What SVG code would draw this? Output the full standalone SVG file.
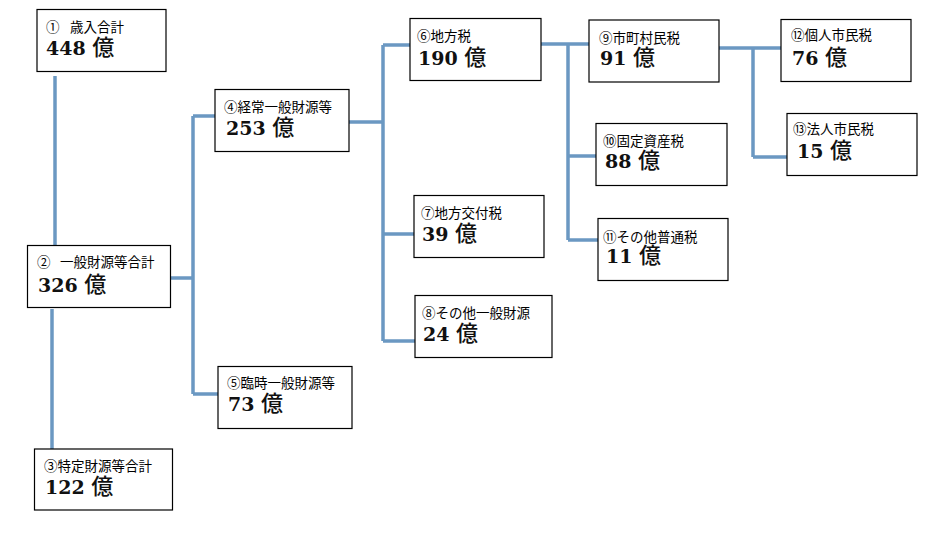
<svg xmlns="http://www.w3.org/2000/svg" width="937" height="534" viewBox="0 0 937 534">
<style>
.bx{fill:#fff;stroke:#000;stroke-width:1.2}
.lb{font-family:"Noto Sans CJK JP","Noto Sans",sans-serif;font-size:13.5px;font-weight:normal;fill:#000}
.nm{font-family:"DejaVu Serif","Liberation Serif",serif;font-weight:bold;font-size:19px;fill:#111}
.ok{font-family:"Noto Sans CJK JP",sans-serif;font-weight:500;font-size:22px}
.cn{fill:none;stroke:#6b98c2;stroke-width:3.5}
</style>
<rect width="937" height="534" fill="#fff"/>
<g id="connectors">
<path class="cn" d="M55,76V245"/>
<path class="cn" d="M52,309V449"/>
<path class="cn" d="M170,278H193M193,116V394M193,116H215M193,394H218"/>
<path class="cn" d="M349,122H383M383,45V341M383,45H410M383,234H414M383,341H415"/>
<path class="cn" d="M541,44H589M568,44V240M568,156H596M568,240H598"/>
<path class="cn" d="M719,48H781M753,48V157M753,157H787"/>
</g>
<g id="n1"><rect class="bx" x="37" y="9.5" width="129" height="62"/>
<text class="nm"><tspan class="lb" x="46" y="32">①</tspan><tspan class="lb" x="70" y="32">歳入合計</tspan><tspan x="46" y="55">448 </tspan><tspan class="ok">億</tspan></text></g>
<g id="n2"><rect class="bx" x="27.5" y="245.5" width="143" height="62"/>
<text class="nm"><tspan class="lb" x="37" y="267">②</tspan><tspan class="lb" x="60" y="267">一般財源等合計</tspan><tspan x="38" y="292">326 </tspan><tspan class="ok">億</tspan></text></g>
<g id="n3"><rect class="bx" x="34.5" y="449" width="138" height="61"/>
<text class="nm"><tspan class="lb" x="44" y="471">③特定財源等合計</tspan><tspan x="45" y="494">122 </tspan><tspan class="ok">億</tspan></text></g>
<g id="n4"><rect class="bx" x="215" y="89.5" width="134" height="62"/>
<text class="nm"><tspan class="lb" x="224" y="112">④経常一般財源等</tspan><tspan x="226" y="135">253 </tspan><tspan class="ok">億</tspan></text></g>
<g id="n5"><rect class="bx" x="218" y="366.5" width="134" height="62"/>
<text class="nm"><tspan class="lb" x="227" y="388">⑤臨時一般財源等</tspan><tspan x="228" y="411">73 </tspan><tspan class="ok">億</tspan></text></g>
<g id="n6"><rect class="bx" x="410" y="18.5" width="131" height="62"/>
<text class="nm"><tspan class="lb" x="417" y="41">⑥地方税</tspan><tspan x="418" y="65">190 </tspan><tspan class="ok">億</tspan></text></g>
<g id="n7"><rect class="bx" x="414" y="195.5" width="130" height="62"/>
<text class="nm"><tspan class="lb" x="421" y="218">⑦地方交付税</tspan><tspan x="422" y="241">39 </tspan><tspan class="ok">億</tspan></text></g>
<g id="n8"><rect class="bx" x="415" y="295.5" width="137" height="62"/>
<text class="nm"><tspan class="lb" x="422" y="318">⑧その他一般財源</tspan><tspan x="423" y="341">24 </tspan><tspan class="ok">億</tspan></text></g>
<g id="n9"><rect class="bx" x="589" y="20" width="130" height="62"/>
<text class="nm"><tspan class="lb" x="599" y="43">⑨市町村民税</tspan><tspan x="600" y="65">91 </tspan><tspan class="ok">億</tspan></text></g>
<g id="n10"><rect class="bx" x="596" y="123.5" width="131" height="62"/>
<text class="nm"><tspan class="lb" x="603" y="146">⑩固定資産税</tspan><tspan x="605" y="168">88 </tspan><tspan class="ok">億</tspan></text></g>
<g id="n11"><rect class="bx" x="598" y="218.5" width="130" height="62"/>
<text class="nm"><tspan class="lb" x="603" y="242">⑪その他普通税</tspan><tspan x="606" y="263">11 </tspan><tspan class="ok">億</tspan></text></g>
<g id="n12"><rect class="bx" x="781" y="19.5" width="130" height="62"/>
<text class="nm"><tspan class="lb" x="791" y="40">⑫個人市民税</tspan><tspan x="792" y="65">76 </tspan><tspan class="ok">億</tspan></text></g>
<g id="n13"><rect class="bx" x="787" y="113.5" width="130" height="62"/>
<text class="nm"><tspan class="lb" x="793" y="134">⑬法人市民税</tspan><tspan x="797" y="158">15 </tspan><tspan class="ok">億</tspan></text></g>
</svg>
